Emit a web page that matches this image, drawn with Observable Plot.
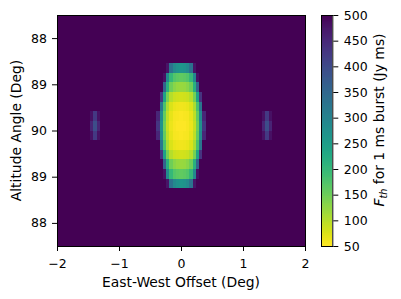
<!DOCTYPE html>
<html><head><meta charset="utf-8">
<script src="https://cdn.jsdelivr.net/npm/d3@7"></script>
<script src="https://cdn.jsdelivr.net/npm/@observablehq/plot@0.6"></script>
<style>
body{margin:0;background:#fff;}
#wrap{position:relative;width:401px;height:299px;overflow:hidden;}
#wrap svg{position:absolute;left:0;top:0;}
</style></head><body><div id="wrap"></div>
<script>
// ---- grid definition ----
const xExtent = [-2, 2];          // East-West offset (deg)
const altExtent = [87.5, 92.5];   // altitude (deg); labels fold about 90
const nCols = 75, nRows = 24;
const backgroundValue = 500;      // saturated threshold (Jy ms)

// ---- main beam (rows 5..17, columns 30..44) ----
const blobRow0 = 5, blobCol0 = 30;
const blobRows = [
  [500,500,500,477,331,286,270,265,270,286,331,477,500,500,500],
  [500,500,480,288,200,173,163,160,163,173,200,288,480,500,500],
  [500,500,360,216,150,130,122,120,122,130,150,216,360,500,500],
  [500,432,240,144,100, 86, 82, 80, 82, 86,100,144,240,432,500],
  [500,324,180,108, 75, 65, 61, 60, 61, 65, 75,108,180,324,500],
  [452,284,158, 95, 66, 57, 54, 53, 54, 57, 66, 95,158,284,452],
  [430,270,150, 90, 63, 54, 51, 50, 51, 54, 63, 90,150,270,430],
  [452,284,158, 95, 66, 57, 54, 53, 54, 57, 66, 95,158,284,452],
  [500,324,180,108, 75, 65, 61, 60, 61, 65, 75,108,180,324,500],
  [500,432,240,144,100, 86, 82, 80, 82, 86,100,144,240,432,500],
  [500,500,360,216,150,130,122,120,122,130,150,216,360,500,500],
  [500,500,480,288,200,173,163,160,163,173,200,288,480,500,500],
  [500,500,500,477,331,286,270,265,270,286,331,477,500,500,500]
];

// ---- grating side lobes (rows 10..12) ----
const lobeRow0 = 10;
const leftLobeCol0 = 10;
const leftLobeRows = [
  [480,425,480],
  [455,395,455],
  [480,425,480]
];
const rightLobeCol0 = 62;
const rightLobeRows = [
  [480,425,480],
  [455,395,455],
  [480,425,480]
];

// ---- ticks & labels ----
const xTicks = [-2, -1, 0, 1, 2];
const altTicks = [88, 89, 90, 91, 92];
const cbTicks = [50, 100, 150, 200, 250, 300, 350, 400, 450, 500];
const cbDomain = [50, 500];
const xLabel = "East-West Offset (Deg)";
const yLabel = "Altitude Angle (Deg)";

// ---- build cells from the arrays ----
const dx = (xExtent[1] - xExtent[0]) / nCols;
const dy = (altExtent[1] - altExtent[0]) / nRows;
function addCells(out, rows, r0, c0) {
  rows.forEach((row, i) => row.forEach((v, j) => {
    const r = r0 + i, c = c0 + j;
    out.push({
      x1: xExtent[0] + c * dx, x2: xExtent[0] + (c + 1) * dx,
      y1: altExtent[1] - (r + 1) * dy, y2: altExtent[1] - r * dy,
      value: v
    });
  }));
}
const cells = [];
addCells(cells, blobRows, blobRow0, blobCol0);
addCells(cells, leftLobeRows, lobeRow0, leftLobeCol0);
addCells(cells, rightLobeRows, lobeRow0, rightLobeCol0);
const bg = [{x1: xExtent[0], x2: xExtent[1], y1: altExtent[0], y2: altExtent[1], value: backgroundValue}];

const colorScale = {type: "linear", domain: cbDomain, scheme: "viridis", reverse: true, clamp: true};
const fmtMinus = d => d < 0 ? "\u2212" + (-d) : String(d);
const font = "DejaVu Sans";

const main = Plot.plot({
  width: 401, height: 299,
  marginLeft: 57, marginRight: 96, marginTop: 15, marginBottom: 53,
  style: {fontFamily: font, fontSize: "12.5px", color: "black", background: "transparent", overflow: "visible"},
  x: {domain: xExtent, ticks: xTicks, tickFormat: fmtMinus, tickSize: 5, tickPadding: 7.5, label: null},
  y: {domain: altExtent, ticks: altTicks, tickFormat: d => d > 90 ? 180 - d : d, tickSize: 5, tickPadding: 5.5, label: null},
  color: colorScale,
  marks: [
    Plot.rect(bg, {x1: "x1", x2: "x2", y1: "y1", y2: "y2", fill: "value"}),
    Plot.rect(cells, {x1: "x1", x2: "x2", y1: "y1", y2: "y2", fill: "value", shapeRendering: "crispEdges"}),
    Plot.frame({stroke: "black", strokeWidth: 1})
  ]
});

const ramp = d3.range(cbDomain[0], cbDomain[1], 1).map(v => ({lo: v, hi: v + 1, mid: v + 0.5}));
const cbar = Plot.plot({
  width: 401, height: 299,
  marginLeft: 321, marginRight: 68.7, marginTop: 15, marginBottom: 53,
  style: {fontFamily: font, fontSize: "12.5px", color: "black", background: "transparent", overflow: "visible"},
  x: {domain: [0, 1], axis: null},
  y: {domain: cbDomain, ticks: cbTicks, axis: "right", tickSize: 5, tickPadding: 6, label: null},
  color: colorScale,
  marks: [
    Plot.rect(ramp, {x1: 0, x2: 1, y1: "lo", y2: "hi", fill: "mid", shapeRendering: "crispEdges"}),
    Plot.frame({stroke: "black", strokeWidth: 1})
  ]
});

const wrap = document.getElementById("wrap");
wrap.appendChild(main);
wrap.appendChild(cbar);

// axis titles
const ms = d3.select(main);
ms.append("text").attr("x", 181).attr("y", 286.5).attr("text-anchor", "middle")
  .attr("font-family", font).attr("font-size", 13.9).attr("fill", "black").text(xLabel);
ms.append("text").attr("transform", "translate(21,130.5) rotate(-90)").attr("text-anchor", "middle")
  .attr("font-family", font).attr("font-size", 13.9).attr("fill", "black").text(yLabel);

const cs = d3.select(cbar);
const t = cs.append("text").attr("transform", "translate(384,120) rotate(-90)").attr("text-anchor", "middle")
  .attr("font-family", font).attr("font-size", 13.9).attr("fill", "black");
t.append("tspan").attr("font-style", "italic").text("F");
t.append("tspan").attr("font-style", "italic").attr("font-size", 9.7).attr("dy", 3).text("th");
t.append("tspan").attr("dy", -3).text(" for 1 ms burst (Jy ms)");
</script></body></html>
